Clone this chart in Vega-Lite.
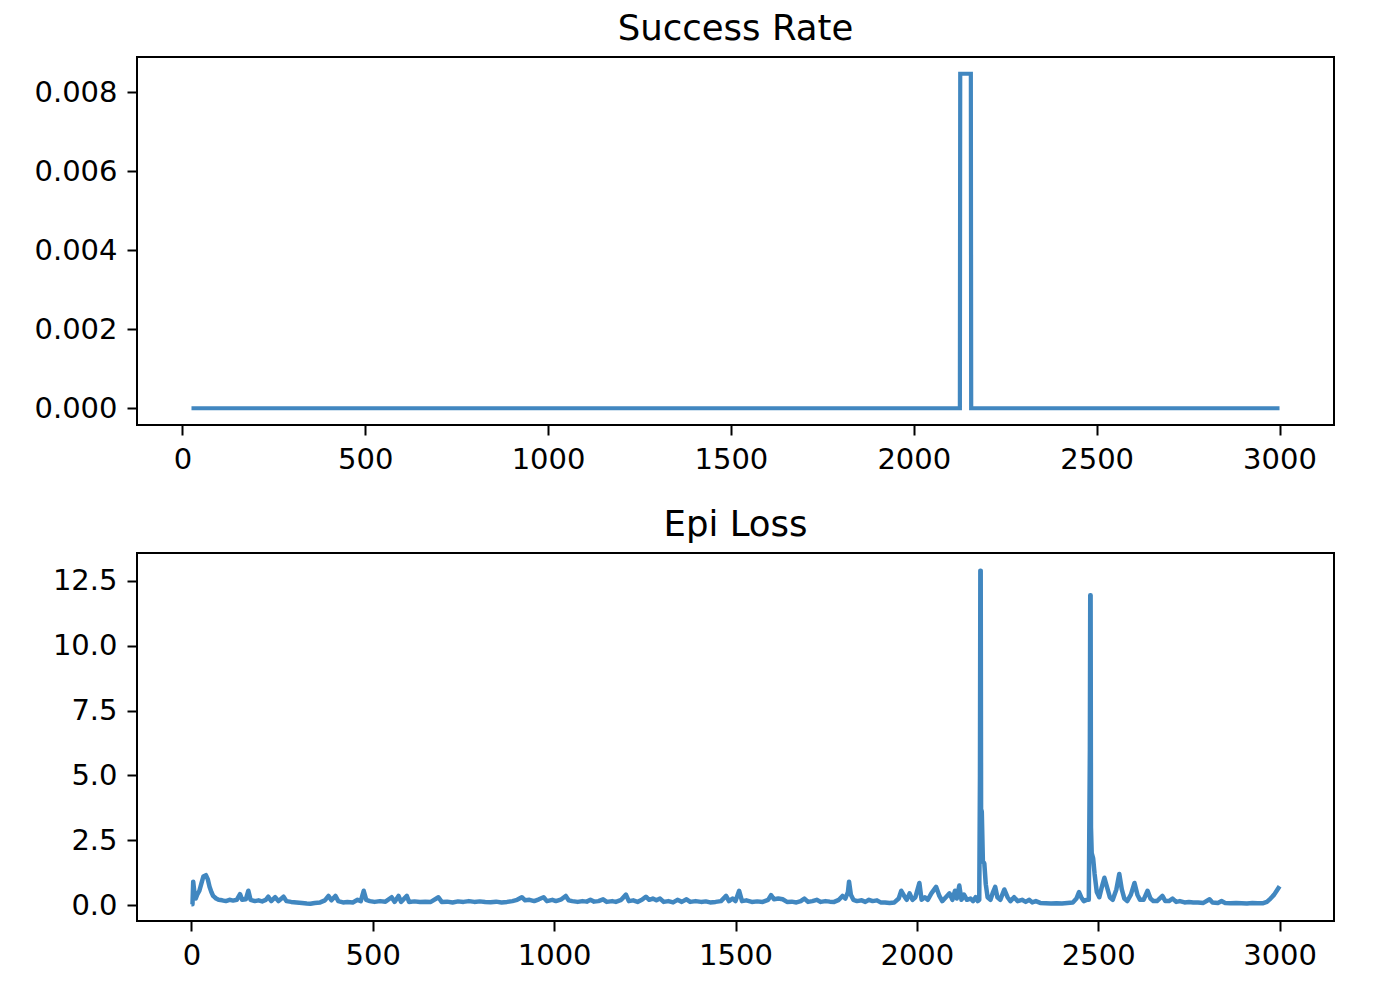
{
  "$schema": "https://vega.github.io/schema/vega-lite/v6.json",
  "background": "white",
  "padding": {"left": 32, "top": 10, "right": 40, "bottom": 10},
  "spacing": 31,
  "datasets": {
    "success": [
      {"episode": 25, "rate": 0},
      {"episode": 2126, "rate": 0},
      {"episode": 2127, "rate": 0.00847},
      {"episode": 2156, "rate": 0.00847},
      {"episode": 2157, "rate": 0},
      {"episode": 3000, "rate": 0}
    ],
    "loss": [
      {"episode": 0, "loss": 0.03}, {"episode": 3, "loss": 0.03}, {"episode": 5, "loss": 0.9}, {"episode": 8, "loss": 0.5},
      {"episode": 12, "loss": 0.25}, {"episode": 16, "loss": 0.4}, {"episode": 22, "loss": 0.55}, {"episode": 28, "loss": 0.85},
      {"episode": 33, "loss": 1.1}, {"episode": 40, "loss": 1.15}, {"episode": 45, "loss": 1.0}, {"episode": 50, "loss": 0.7},
      {"episode": 55, "loss": 0.5}, {"episode": 60, "loss": 0.35}, {"episode": 68, "loss": 0.25}, {"episode": 75, "loss": 0.2},
      {"episode": 85, "loss": 0.18}, {"episode": 95, "loss": 0.15}, {"episode": 105, "loss": 0.2}, {"episode": 115, "loss": 0.17},
      {"episode": 125, "loss": 0.2}, {"episode": 134, "loss": 0.42}, {"episode": 140, "loss": 0.2}, {"episode": 150, "loss": 0.22},
      {"episode": 157, "loss": 0.55}, {"episode": 163, "loss": 0.2}, {"episode": 175, "loss": 0.15}, {"episode": 185, "loss": 0.18},
      {"episode": 195, "loss": 0.14}, {"episode": 205, "loss": 0.2}, {"episode": 212, "loss": 0.32}, {"episode": 220, "loss": 0.15},
      {"episode": 231, "loss": 0.3}, {"episode": 240, "loss": 0.15}, {"episode": 254, "loss": 0.32}, {"episode": 262, "loss": 0.15},
      {"episode": 275, "loss": 0.12}, {"episode": 290, "loss": 0.1}, {"episode": 305, "loss": 0.08}, {"episode": 318, "loss": 0.06},
      {"episode": 328, "loss": 0.05}, {"episode": 340, "loss": 0.08}, {"episode": 355, "loss": 0.1}, {"episode": 368, "loss": 0.18},
      {"episode": 378, "loss": 0.35}, {"episode": 386, "loss": 0.18}, {"episode": 397, "loss": 0.35}, {"episode": 405, "loss": 0.15},
      {"episode": 418, "loss": 0.1}, {"episode": 430, "loss": 0.12}, {"episode": 445, "loss": 0.1}, {"episode": 458, "loss": 0.2},
      {"episode": 467, "loss": 0.15}, {"episode": 475, "loss": 0.55}, {"episode": 482, "loss": 0.2}, {"episode": 492, "loss": 0.15},
      {"episode": 505, "loss": 0.12}, {"episode": 520, "loss": 0.15}, {"episode": 535, "loss": 0.13}, {"episode": 552, "loss": 0.3},
      {"episode": 560, "loss": 0.12}, {"episode": 571, "loss": 0.35}, {"episode": 578, "loss": 0.12}, {"episode": 594, "loss": 0.35},
      {"episode": 600, "loss": 0.12}, {"episode": 615, "loss": 0.14}, {"episode": 630, "loss": 0.12}, {"episode": 645, "loss": 0.13},
      {"episode": 660, "loss": 0.12}, {"episode": 681, "loss": 0.3}, {"episode": 690, "loss": 0.12}, {"episode": 705, "loss": 0.13},
      {"episode": 720, "loss": 0.1}, {"episode": 735, "loss": 0.14}, {"episode": 750, "loss": 0.12}, {"episode": 765, "loss": 0.15},
      {"episode": 780, "loss": 0.12}, {"episode": 795, "loss": 0.14}, {"episode": 810, "loss": 0.12}, {"episode": 825, "loss": 0.11},
      {"episode": 840, "loss": 0.13}, {"episode": 855, "loss": 0.1}, {"episode": 870, "loss": 0.12}, {"episode": 885, "loss": 0.15},
      {"episode": 898, "loss": 0.2}, {"episode": 911, "loss": 0.3}, {"episode": 920, "loss": 0.18}, {"episode": 932, "loss": 0.2},
      {"episode": 945, "loss": 0.15}, {"episode": 958, "loss": 0.22}, {"episode": 971, "loss": 0.3}, {"episode": 980, "loss": 0.15},
      {"episode": 995, "loss": 0.2}, {"episode": 1005, "loss": 0.15}, {"episode": 1020, "loss": 0.22}, {"episode": 1032, "loss": 0.35},
      {"episode": 1040, "loss": 0.18}, {"episode": 1050, "loss": 0.15}, {"episode": 1065, "loss": 0.12}, {"episode": 1078, "loss": 0.15},
      {"episode": 1090, "loss": 0.13}, {"episode": 1100, "loss": 0.2}, {"episode": 1110, "loss": 0.13}, {"episode": 1122, "loss": 0.15},
      {"episode": 1135, "loss": 0.22}, {"episode": 1145, "loss": 0.12}, {"episode": 1160, "loss": 0.15}, {"episode": 1170, "loss": 0.12},
      {"episode": 1185, "loss": 0.2}, {"episode": 1198, "loss": 0.4}, {"episode": 1206, "loss": 0.15}, {"episode": 1218, "loss": 0.18},
      {"episode": 1230, "loss": 0.12}, {"episode": 1242, "loss": 0.2}, {"episode": 1253, "loss": 0.32}, {"episode": 1262, "loss": 0.2},
      {"episode": 1272, "loss": 0.25}, {"episode": 1282, "loss": 0.18}, {"episode": 1292, "loss": 0.25}, {"episode": 1302, "loss": 0.12},
      {"episode": 1315, "loss": 0.15}, {"episode": 1328, "loss": 0.1}, {"episode": 1340, "loss": 0.2}, {"episode": 1352, "loss": 0.12},
      {"episode": 1365, "loss": 0.22}, {"episode": 1375, "loss": 0.12}, {"episode": 1390, "loss": 0.15}, {"episode": 1405, "loss": 0.12},
      {"episode": 1418, "loss": 0.14}, {"episode": 1430, "loss": 0.1}, {"episode": 1445, "loss": 0.12}, {"episode": 1460, "loss": 0.15},
      {"episode": 1474, "loss": 0.35}, {"episode": 1482, "loss": 0.15}, {"episode": 1492, "loss": 0.25}, {"episode": 1500, "loss": 0.15},
      {"episode": 1510, "loss": 0.55}, {"episode": 1518, "loss": 0.15}, {"episode": 1530, "loss": 0.18}, {"episode": 1545, "loss": 0.12},
      {"episode": 1560, "loss": 0.14}, {"episode": 1575, "loss": 0.12}, {"episode": 1590, "loss": 0.2}, {"episode": 1598, "loss": 0.38},
      {"episode": 1606, "loss": 0.22}, {"episode": 1618, "loss": 0.25}, {"episode": 1630, "loss": 0.22}, {"episode": 1642, "loss": 0.12},
      {"episode": 1655, "loss": 0.13}, {"episode": 1668, "loss": 0.1}, {"episode": 1680, "loss": 0.15}, {"episode": 1690, "loss": 0.25},
      {"episode": 1700, "loss": 0.12}, {"episode": 1712, "loss": 0.15}, {"episode": 1724, "loss": 0.2}, {"episode": 1735, "loss": 0.12},
      {"episode": 1748, "loss": 0.15}, {"episode": 1760, "loss": 0.13}, {"episode": 1772, "loss": 0.12}, {"episode": 1785, "loss": 0.2},
      {"episode": 1795, "loss": 0.35}, {"episode": 1803, "loss": 0.25}, {"episode": 1810, "loss": 0.5}, {"episode": 1813, "loss": 0.9},
      {"episode": 1818, "loss": 0.4}, {"episode": 1825, "loss": 0.2}, {"episode": 1835, "loss": 0.15}, {"episode": 1848, "loss": 0.18},
      {"episode": 1858, "loss": 0.12}, {"episode": 1868, "loss": 0.2}, {"episode": 1878, "loss": 0.15}, {"episode": 1890, "loss": 0.18},
      {"episode": 1900, "loss": 0.1}, {"episode": 1912, "loss": 0.1}, {"episode": 1925, "loss": 0.08}, {"episode": 1938, "loss": 0.1},
      {"episode": 1950, "loss": 0.25}, {"episode": 1957, "loss": 0.55}, {"episode": 1965, "loss": 0.35}, {"episode": 1972, "loss": 0.2},
      {"episode": 1980, "loss": 0.45}, {"episode": 1988, "loss": 0.2}, {"episode": 1996, "loss": 0.3}, {"episode": 2007, "loss": 0.85},
      {"episode": 2013, "loss": 0.2}, {"episode": 2022, "loss": 0.3}, {"episode": 2030, "loss": 0.2}, {"episode": 2040, "loss": 0.45},
      {"episode": 2053, "loss": 0.7}, {"episode": 2062, "loss": 0.35}, {"episode": 2070, "loss": 0.15}, {"episode": 2080, "loss": 0.3},
      {"episode": 2090, "loss": 0.45}, {"episode": 2098, "loss": 0.2}, {"episode": 2105, "loss": 0.55}, {"episode": 2110, "loss": 0.25},
      {"episode": 2117, "loss": 0.75}, {"episode": 2123, "loss": 0.2}, {"episode": 2130, "loss": 0.4}, {"episode": 2138, "loss": 0.2},
      {"episode": 2148, "loss": 0.25}, {"episode": 2155, "loss": 0.15}, {"episode": 2162, "loss": 0.3}, {"episode": 2168, "loss": 0.15},
      {"episode": 2172, "loss": 0.2}, {"episode": 2174, "loss": 5.0}, {"episode": 2175, "loss": 12.9}, {"episode": 2176, "loss": 12.9},
      {"episode": 2177, "loss": 3.7}, {"episode": 2179, "loss": 3.6}, {"episode": 2182, "loss": 1.7}, {"episode": 2186, "loss": 1.6},
      {"episode": 2190, "loss": 0.8}, {"episode": 2195, "loss": 0.3}, {"episode": 2203, "loss": 0.2}, {"episode": 2210, "loss": 0.5},
      {"episode": 2216, "loss": 0.7}, {"episode": 2222, "loss": 0.3}, {"episode": 2230, "loss": 0.2}, {"episode": 2241, "loss": 0.6},
      {"episode": 2250, "loss": 0.3}, {"episode": 2258, "loss": 0.15}, {"episode": 2268, "loss": 0.3}, {"episode": 2278, "loss": 0.15},
      {"episode": 2290, "loss": 0.2}, {"episode": 2300, "loss": 0.12}, {"episode": 2310, "loss": 0.2}, {"episode": 2318, "loss": 0.1},
      {"episode": 2328, "loss": 0.15}, {"episode": 2340, "loss": 0.08}, {"episode": 2355, "loss": 0.07}, {"episode": 2370, "loss": 0.06},
      {"episode": 2385, "loss": 0.07}, {"episode": 2400, "loss": 0.06}, {"episode": 2415, "loss": 0.08}, {"episode": 2430, "loss": 0.1},
      {"episode": 2440, "loss": 0.25}, {"episode": 2447, "loss": 0.5}, {"episode": 2453, "loss": 0.3}, {"episode": 2460, "loss": 0.15},
      {"episode": 2468, "loss": 0.2}, {"episode": 2474, "loss": 0.2}, {"episode": 2477, "loss": 6.0}, {"episode": 2478, "loss": 11.95},
      {"episode": 2479, "loss": 11.95}, {"episode": 2480, "loss": 3.0}, {"episode": 2482, "loss": 2.0}, {"episode": 2486, "loss": 1.8},
      {"episode": 2490, "loss": 1.2}, {"episode": 2496, "loss": 0.5}, {"episode": 2503, "loss": 0.3}, {"episode": 2510, "loss": 0.7},
      {"episode": 2517, "loss": 1.05}, {"episode": 2524, "loss": 0.7}, {"episode": 2532, "loss": 0.3}, {"episode": 2540, "loss": 0.2},
      {"episode": 2550, "loss": 0.6}, {"episode": 2558, "loss": 1.2}, {"episode": 2565, "loss": 0.6}, {"episode": 2572, "loss": 0.25},
      {"episode": 2580, "loss": 0.15}, {"episode": 2590, "loss": 0.4}, {"episode": 2600, "loss": 0.85}, {"episode": 2608, "loss": 0.4},
      {"episode": 2615, "loss": 0.2}, {"episode": 2625, "loss": 0.2}, {"episode": 2636, "loss": 0.55}, {"episode": 2644, "loss": 0.25},
      {"episode": 2652, "loss": 0.15}, {"episode": 2662, "loss": 0.15}, {"episode": 2677, "loss": 0.35}, {"episode": 2685, "loss": 0.15},
      {"episode": 2695, "loss": 0.15}, {"episode": 2705, "loss": 0.25}, {"episode": 2715, "loss": 0.12}, {"episode": 2725, "loss": 0.15},
      {"episode": 2738, "loss": 0.1}, {"episode": 2750, "loss": 0.12}, {"episode": 2762, "loss": 0.1}, {"episode": 2775, "loss": 0.1},
      {"episode": 2790, "loss": 0.08}, {"episode": 2807, "loss": 0.22}, {"episode": 2815, "loss": 0.1}, {"episode": 2830, "loss": 0.08},
      {"episode": 2840, "loss": 0.15}, {"episode": 2850, "loss": 0.08}, {"episode": 2865, "loss": 0.07}, {"episode": 2880, "loss": 0.08},
      {"episode": 2895, "loss": 0.07}, {"episode": 2910, "loss": 0.06}, {"episode": 2925, "loss": 0.08}, {"episode": 2940, "loss": 0.07},
      {"episode": 2955, "loss": 0.07}, {"episode": 2965, "loss": 0.12}, {"episode": 2975, "loss": 0.25}, {"episode": 2985, "loss": 0.4},
      {"episode": 2992, "loss": 0.55}, {"episode": 3000, "loss": 0.72}
    ]
  },
  "vconcat": [
    {
      "title": {"text": "Success Rate"},
      "width": 1197,
      "height": 368,
      "data": {"name": "success"},
      "mark": {"type": "line", "color": "#4187c0", "strokeWidth": 4.2, "strokeJoin": "miter", "clip": true},
      "encoding": {
        "x": {"field": "episode", "type": "quantitative", "title": null,
              "scale": {"domain": [-124, 3149], "nice": false, "zero": false},
              "axis": {"values": [0, 500, 1000, 1500, 2000, 2500, 3000], "format": "d"}},
        "y": {"field": "rate", "type": "quantitative", "title": null,
              "scale": {"domain": [-0.000424, 0.008894], "nice": false, "zero": false},
              "axis": {"values": [0, 0.002, 0.004, 0.006, 0.008], "format": ".3f"}}
      }
    },
    {
      "title": {"text": "Epi Loss"},
      "width": 1197,
      "height": 368,
      "data": {"name": "loss"},
      "mark": {"type": "line", "color": "#4187c0", "strokeWidth": 4.5, "strokeJoin": "round", "clip": true},
      "encoding": {
        "x": {"field": "episode", "type": "quantitative", "title": null,
              "scale": {"domain": [-150, 3150], "nice": false, "zero": false},
              "axis": {"values": [0, 500, 1000, 1500, 2000, 2500, 3000], "format": "d"}},
        "y": {"field": "loss", "type": "quantitative", "title": null,
              "scale": {"domain": [-0.617, 13.58], "nice": false, "zero": false},
              "axis": {"values": [0, 2.5, 5, 7.5, 10, 12.5], "format": ".1f"}}
      }
    }
  ],
  "config": {
    "view": {"stroke": "black", "strokeWidth": 2},
    "axis": {
      "domain": false, "grid": false, "ticks": true, "tickColor": "black", "tickWidth": 2, "tickSize": 10,
      "labelPadding": 10, "labelFont": "DejaVu Sans", "labelFontSize": 29, "labelColor": "black",
      "labelFlush": false, "labelOverlap": false
    },
    "title": {"font": "DejaVu Sans", "fontSize": 35.5, "fontWeight": "normal", "color": "black", "offset": 10}
  }
}
